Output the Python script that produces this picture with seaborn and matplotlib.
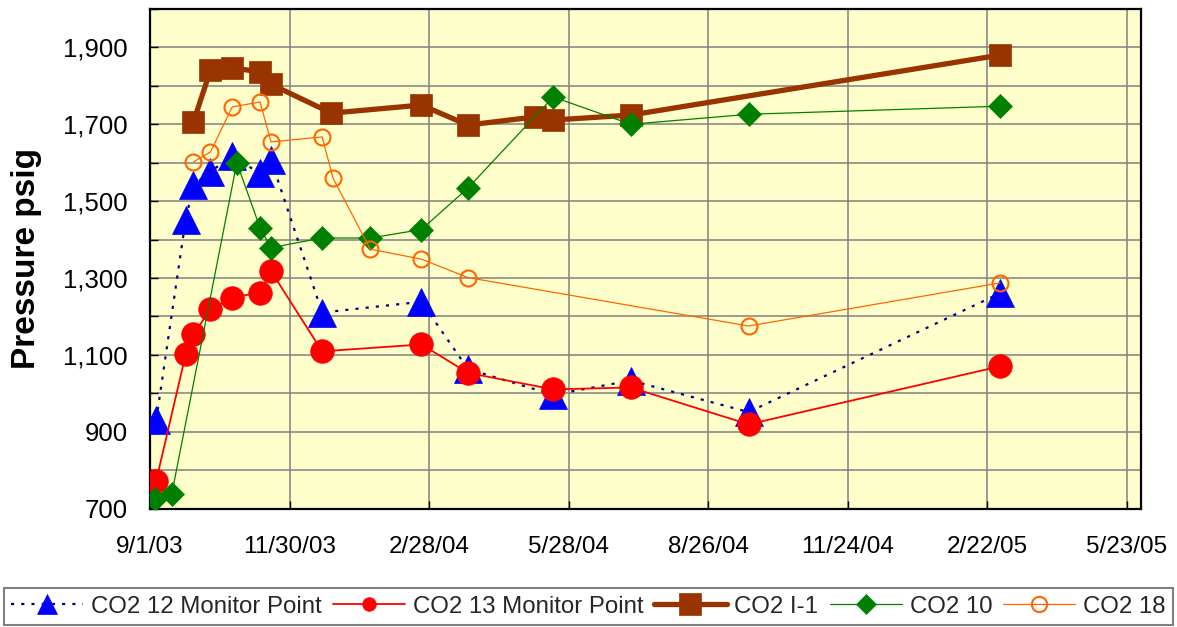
import numpy as np
import pandas as pd
import matplotlib
matplotlib.use("Agg")
import matplotlib.pyplot as plt
import seaborn as sns

# ---------------- data ----------------
co2_12_dates = ["2003-09-05", "2003-09-24", "2003-09-29", "2003-10-10", "2003-10-24",
                "2003-11-11", "2003-11-18", "2003-12-21", "2004-02-23", "2004-03-24",
                "2004-05-18", "2004-07-07", "2004-09-21", "2005-03-02"]
co2_12_vals = [930, 1452, 1541, 1577, 1617, 1572, 1608, 1210, 1238, 1063, 996, 1033, 951, 1260]

co2_13_dates = ["2003-09-05", "2003-09-24", "2003-09-29", "2003-10-10", "2003-10-24",
                "2003-11-11", "2003-11-18", "2003-12-21", "2004-02-23", "2004-03-24",
                "2004-05-18", "2004-07-07", "2004-09-21", "2005-03-02"]
co2_13_vals = [772, 1101, 1154, 1218, 1249, 1262, 1318, 1109, 1127, 1053, 1010, 1015, 919, 1070]

co2_i1_dates = ["2003-09-29", "2003-10-10", "2003-10-24", "2003-11-11", "2003-11-18",
                "2003-12-27", "2004-02-23", "2004-03-24", "2004-05-06", "2004-05-18",
                "2004-07-07", "2005-03-02"]
co2_i1_vals = [1706, 1841, 1847, 1836, 1804, 1729, 1750, 1698, 1719, 1711, 1724, 1880]

co2_10_dates = ["2003-09-04", "2003-09-15", "2003-10-27", "2003-11-11", "2003-11-18",
                "2003-12-21", "2004-01-21", "2004-02-23", "2004-03-24", "2004-05-18",
                "2004-07-07", "2004-09-21", "2005-03-02"]
co2_10_vals = [726, 737, 1600, 1430, 1379, 1404, 1404, 1426, 1534, 1771, 1700, 1726, 1747]

co2_18_dates = ["2003-09-29", "2003-10-10", "2003-10-24", "2003-11-11", "2003-11-18",
                "2003-12-21", "2003-12-28", "2004-01-21", "2004-02-23", "2004-03-24",
                "2004-09-21", "2005-03-02"]
co2_18_vals = [1602, 1628, 1745, 1758, 1654, 1667, 1560, 1375, 1349, 1301, 1175, 1287]

series_labels = ["CO2 12 Monitor Point", "CO2 13 Monitor Point", "CO2 I-1", "CO2 10", "CO2 18"]

x_tick_dates = ["2003-09-01", "2003-11-30", "2004-02-28", "2004-05-28",
                "2004-08-26", "2004-11-24", "2005-02-22", "2005-05-23"]
x_tick_labels = ["9/1/03", "11/30/03", "2/28/04", "5/28/04", "8/26/04", "11/24/04", "2/22/05", "5/23/05"]
y_ticks = [700, 900, 1100, 1300, 1500, 1700, 1900]
y_tick_labels = ["700", "900", "1,100", "1,300", "1,500", "1,700", "1,900"]
y_minor = [800, 1000, 1200, 1400, 1600, 1800, 2000]

# ---------------- styling ----------------
sns.set_theme(style="white")
plt.rcParams["font.family"] = ["Liberation Sans", "DejaVu Sans"]

W, H = 1177, 627
fig = plt.figure(figsize=(W / 100, H / 100), dpi=100)
ax = fig.add_axes([150 / W, 1 - 508.5 / H, (1141 - 150) / W, (508.5 - 9) / H])
ax.set_facecolor("#FFFFCC")

styles = [
    dict(dates=co2_12_dates, vals=co2_12_vals, color="#000080", mfc="#0000FF", mec="#0000FF",
         marker="^", ms=19.5, lw=1.6, ls=(0, (1.4, 3.2)), mew=0.5, lgms=14),
    dict(dates=co2_13_dates, vals=co2_13_vals, color="#FF0000", mfc="#FF0000", mec="#FF0000",
         marker="o", ms=17.0, lw=1.3, ls="-", mew=0.5, lgms=9.8),
    dict(dates=co2_i1_dates, vals=co2_i1_vals, color="#993300", mfc="#993300", mec="#993300",
         marker="s", ms=15.5, lw=3.8, ls="-", mew=0.5, lgms=15.5),
    dict(dates=co2_10_dates, vals=co2_10_vals, color="#008000", mfc="#008000", mec="#008000",
         marker="D", ms=12.0, lw=0.9, ls="-", mew=0.5, lgms=9.7),
    dict(dates=co2_18_dates, vals=co2_18_vals, color="#FF6600", mfc="none", mec="#FF6600",
         marker="o", ms=11.5, lw=0.9, ls="-", mew=1.5, lgms=11),
]

for i, (lab, st) in enumerate(zip(series_labels, styles)):
    df = pd.DataFrame({"date": pd.to_datetime(st["dates"]), "psig": st["vals"]})
    sns.lineplot(data=df, x="date", y="psig", ax=ax, estimator=None, sort=False,
                 color=st["color"], marker=st["marker"], markersize=st["ms"],
                 markerfacecolor=st["mfc"], markeredgecolor=st["mec"],
                 markeredgewidth=st["mew"], linewidth=st["lw"], linestyle=st["ls"],
                 label=lab, zorder=3 + i)

if ax.get_legend() is not None:
    ax.get_legend().remove()

ax.set_xlabel("")
ax.set_ylabel("")
ax.set_xlim(pd.Timestamp("2003-09-01"), pd.Timestamp("2005-06-01"))
ax.set_ylim(700, 2000)

ax.set_xticks(pd.to_datetime(x_tick_dates))
ax.set_xticklabels(x_tick_labels)
ax.set_yticks(y_ticks)
ax.set_yticklabels(y_tick_labels)
ax.set_yticks(y_minor, minor=True)

ax.set_axisbelow(True)
ax.grid(True, which="both", axis="y", color="#808080", linewidth=1.1)
ax.grid(True, which="major", axis="x", color="#808080", linewidth=1.1)

ax.tick_params(axis="both", which="both", direction="in", length=6, width=1.0,
               color="black", bottom=True, left=True, top=False, right=False)
ax.tick_params(axis="x", labelsize=17.5, pad=20, labelcolor="black")
ax.tick_params(axis="y", labelsize=18.5, pad=16, labelcolor="black")

for sp in ax.spines.values():
    sp.set_visible(True)
    sp.set_color("black")
    sp.set_linewidth(1.6)

fig.text(27 / W, 1 - 258.75 / H, "Pressure psig", rotation=90, ha="center", va="center",
         fontsize=24, fontweight="bold", color="black")

handles, labels = ax.get_legend_handles_labels()
leg = fig.legend(handles, labels, loc="upper left", bbox_to_anchor=(3.5 / W, 1 - 588 / H),
                 ncol=5, frameon=True, fancybox=False, edgecolor="#808080", framealpha=1,
                 fontsize=17.3, handlelength=3.0, handletextpad=0.33, columnspacing=0.46,
                 borderpad=0.32, borderaxespad=0)
leg.get_frame().set_linewidth(1.5)
for h, st in zip(leg.legend_handles, styles):
    h.set_markersize(st["lgms"])

fig.savefig("out.png", dpi=100)
